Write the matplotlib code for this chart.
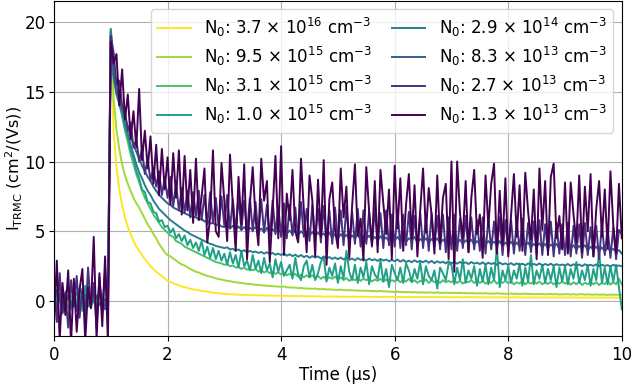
import numpy as np
import matplotlib
matplotlib.use("Agg")
import matplotlib.pyplot as plt

# time grid (μs), one sample every 0.05 μs from 0 to 10
time_us = np.round(np.arange(201) * 0.05, 2)

labels = [
    "N$_0$: 3.7 × 10$^{16}$ cm$^{-3}$",
    "N$_0$: 9.5 × 10$^{15}$ cm$^{-3}$",
    "N$_0$: 3.1 × 10$^{15}$ cm$^{-3}$",
    "N$_0$: 1.0 × 10$^{15}$ cm$^{-3}$",
    "N$_0$: 2.9 × 10$^{14}$ cm$^{-3}$",
    "N$_0$: 8.3 × 10$^{13}$ cm$^{-3}$",
    "N$_0$: 2.7 × 10$^{13}$ cm$^{-3}$",
    "N$_0$: 1.3 × 10$^{13}$ cm$^{-3}$",
]

n_37e16 = [
    0.1, -0.2, 0.3, 0.0, -0.1, 0.2, -0.3, 0.1, 0.2, -0.1,
    0.0, 0.3, -0.2, 0.1, -0.1, 0.2, 0.0, -0.2, 0.1, 0.0,
    19.3, 12.2, 9.6, 8.0, 6.9, 6.0, 5.3, 4.8, 4.3, 3.9,
    3.6, 3.3, 3.0, 2.75, 2.5, 2.3, 2.1, 1.95, 1.8, 1.62,
    1.45, 1.36, 1.28, 1.2, 1.12, 1.05, 1.0, 0.94, 0.89, 0.84,
    0.8, 0.77, 0.73, 0.7, 0.67, 0.63, 0.61, 0.58, 0.56, 0.54,
    0.52, 0.51, 0.49, 0.48, 0.47, 0.46, 0.45, 0.45, 0.44, 0.43,
    0.42, 0.42, 0.41, 0.41, 0.40, 0.40, 0.39, 0.39, 0.39, 0.38,
    0.38, 0.37, 0.38, 0.36, 0.37, 0.36, 0.35, 0.36, 0.35, 0.34,
    0.35, 0.34, 0.33, 0.34, 0.33, 0.32, 0.33, 0.32, 0.33, 0.32,
    0.32, 0.31, 0.32, 0.31, 0.30, 0.31, 0.32, 0.30, 0.31, 0.30,
    0.31, 0.30, 0.29, 0.31, 0.30, 0.29, 0.30, 0.31, 0.29, 0.30,
    0.30, 0.29, 0.30, 0.28, 0.29, 0.30, 0.28, 0.29, 0.30, 0.28,
    0.29, 0.28, 0.29, 0.30, 0.28, 0.29, 0.27, 0.28, 0.29, 0.28,
    0.28, 0.27, 0.29, 0.28, 0.27, 0.28, 0.29, 0.27, 0.28, 0.27,
    0.28, 0.27, 0.26, 0.28, 0.27, 0.26, 0.27, 0.28, 0.26, 0.27,
    0.27, 0.26, 0.27, 0.28, 0.26, 0.27, 0.25, 0.26, 0.27, 0.26,
    0.26, 0.27, 0.25, 0.26, 0.27, 0.25, 0.26, 0.25, 0.27, 0.26,
    0.26, 0.25, 0.26, 0.27, 0.25, 0.26, 0.24, 0.25, 0.26, 0.25,
    0.25, 0.26, 0.24, 0.25, 0.26, 0.24, 0.25, 0.26, 0.24, 0.25,
    0.25,
]

n_95e15 = [
    -0.2, 0.3, 0.1, -0.3, 0.2, 0.0, 0.4, -0.2, 0.1, 0.3,
    -0.1, 0.2, -0.3, 0.4, 0.0, -0.2, 0.3, 0.1, -0.1, 0.2,
    19.4, 14.5, 12.3, 10.9, 9.8, 9.0, 8.4, 7.9, 7.4, 7.0,
    6.7, 6.3, 5.9, 5.5, 5.2, 4.8, 4.5, 4.1, 3.8, 3.5,
    3.3, 3.2, 3.05, 2.9, 2.75, 2.62, 2.55, 2.42, 2.3, 2.2,
    2.1, 2.05, 1.95, 1.88, 1.8, 1.75, 1.7, 1.62, 1.58, 1.54,
    1.5, 1.45, 1.43, 1.38, 1.35, 1.32, 1.3, 1.26, 1.24, 1.22,
    1.2, 1.17, 1.16, 1.13, 1.12, 1.1, 1.08, 1.07, 1.05, 1.04,
    1.02, 1.04, 0.99, 0.98, 0.96, 0.97, 0.93, 0.94, 0.91, 0.9,
    0.9, 0.88, 0.9, 0.86, 0.85, 0.87, 0.83, 0.84, 0.82, 0.81,
    0.8, 0.82, 0.78, 0.79, 0.77, 0.78, 0.75, 0.76, 0.74, 0.75,
    0.73, 0.74, 0.71, 0.72, 0.7, 0.73, 0.69, 0.7, 0.68, 0.67,
    0.65, 0.68, 0.64, 0.66, 0.63, 0.65, 0.62, 0.64, 0.61, 0.63,
    0.62, 0.6, 0.63, 0.61, 0.59, 0.62, 0.6, 0.58, 0.61, 0.59,
    0.58, 0.6, 0.57, 0.59, 0.56, 0.58, 0.55, 0.57, 0.56, 0.54,
    0.56, 0.54, 0.57, 0.53, 0.55, 0.52, 0.56, 0.53, 0.54, 0.52,
    0.52, 0.54, 0.51, 0.53, 0.5, 0.52, 0.54, 0.5, 0.52, 0.49,
    0.51, 0.49, 0.52, 0.48, 0.5, 0.51, 0.48, 0.5, 0.47, 0.49,
    0.48, 0.5, 0.47, 0.49, 0.46, 0.48, 0.5, 0.46, 0.48, 0.47,
    0.46, 0.48, 0.45, 0.47, 0.46, 0.44, 0.47, 0.45, 0.46, 0.44,
    0.45,
]

n_31e15 = [
    0.4, -0.3, 0.6, -0.1, 0.3, -0.5, 0.2, 0.5, -0.4, 0.1,
    0.3, -0.2, 0.5, -0.4, 0.2, 0.0, 0.6, -0.3, 0.2, -0.1,
    19.5, 17.0, 15.3, 14.2, 13.2, 12.2, 11.4, 10.5, 9.8, 9.1,
    8.5, 7.9, 7.4, 7.0, 6.6, 6.2, 5.9, 5.6, 5.3, 5.1,
    4.9, 4.7, 4.6, 4.3, 4.2, 4.1, 3.9, 3.8, 3.7, 3.6,
    3.5, 3.4, 3.3, 3.2, 3.1, 3.0, 2.9, 2.8, 2.75, 2.7,
    2.6, 2.65, 2.5, 2.55, 2.4, 2.45, 2.3, 2.4, 2.25, 2.3,
    2.2, 2.3, 2.1, 2.25, 2.05, 2.15, 2.0, 2.1, 1.95, 2.05,
    1.9, 2.05, 1.85, 1.95, 1.8, 1.95, 1.75, 1.9, 1.7, 1.85,
    1.7, 1.85, 1.65, 1.8, 1.6, 1.75, 1.55, 1.7, 1.6, 1.75,
    1.55, 1.7, 1.5, 1.65, 1.45, 1.6, 1.5, 1.65, 1.45, 1.6,
    1.5, 1.6, 1.4, 1.55, 1.45, 1.6, 1.4, 1.55, 1.35, 1.5,
    1.4, 1.55, 1.35, 1.5, 1.4, 1.6, 1.35, 1.5, 1.3, 1.45,
    1.4, 1.55, 1.3, 1.5, 1.35, 1.45, 1.3, 1.5, 1.35, 1.45,
    1.35, 1.5, 1.3, 1.45, 1.25, 1.4, 1.35, 1.5, 1.3, 1.45,
    1.3, 1.45, 1.25, 1.4, 1.3, 1.5, 1.25, 1.4, 1.3, 1.45,
    1.28, 1.4, 1.2, 1.35, 1.25, 1.45, 1.2, 1.35, 1.25, 1.4,
    1.25, 1.4, 1.2, 1.35, 1.22, 1.38, 1.2, 1.35, 1.25, 1.4,
    1.25, 1.38, 1.18, 1.35, 1.2, 1.4, 1.15, 1.32, 1.2, 1.38,
    1.2, 1.35, 1.15, 1.3, 1.22, 1.45, 1.18, 1.35, 1.2, 1.6,
    1.2,
]

n_10e15 = [
    0.8, -0.5, 1.6, -0.8, 0.5, 1.0, -0.6, 0.9, -0.3, 0.6,
    -0.7, 1.1, 0.2, -0.5, 0.8, -0.9, 1.0, 0.3, -0.4, 0.5,
    19.5, 16.8, 15.2, 14.3, 13.5, 12.4, 11.8, 10.8, 10.2, 9.3,
    8.8, 8.0, 7.8, 7.1, 7.0, 6.4, 6.3, 5.7, 5.8, 5.3,
    5.4, 4.9, 5.2, 4.5, 4.8, 4.3, 4.7, 4.0, 4.4, 3.8,
    4.2, 3.6, 4.3, 3.3, 3.9, 3.1, 3.8, 3.0, 3.6, 2.9,
    3.4, 2.6, 3.5, 2.7, 3.3, 2.4, 3.6, 2.5, 2.9, 2.2,
    3.3, 2.3, 2.9, 2.0, 3.1, 2.2, 2.7, 1.7, 3.0, 2.1,
    2.8, 1.8, 2.2, 2.6, 1.6, 3.1, 1.9, 1.5, 2.5, 2.9,
    1.7, 2.6, 1.5, 2.0, 2.8, 3.2, 1.4, 2.4, 1.8, 2.7,
    1.3, 2.5, 1.6, 3.6, 2.1, 1.5, 2.6, 1.3, 2.4, 1.7,
    2.8, 1.2, 2.5, 1.9, 1.6, 2.9, 1.4, 2.3, 1.0, 2.6,
    2.0, 1.5, 2.4, 1.3, 2.7, 2.2, 1.4, 2.3, 1.6, 2.8,
    1.2, 2.5, 1.8, 1.5, 2.2, 0.9, 2.4, 2.0, 1.5, 2.7,
    2.6, 1.2, 2.4, 1.5, 3.0, 1.3, 2.2, 1.6, 2.5, 1.1,
    2.3, 1.4, 2.6, 1.2, 2.4, 1.5, 3.9, 1.0, 2.2, 1.5,
    2.5, 1.3, 2.2, 1.6, 2.7, 1.1, 2.4, 1.4, 3.3, 1.2,
    2.2, 1.6, 2.6, 1.3, 2.3, 1.5, 2.5, 1.0, 2.4, 1.4,
    2.5, 1.2, 2.3, 1.6, 2.8, 1.3, 2.2, 1.5, 2.6, 1.1,
    2.3, 1.5, 3.5, 1.3, 2.4, 1.2, 2.5, 1.4, 2.6, 1.0,
    -0.6,
]

n_29e14 = [
    0.3, -0.4, 0.5, 0.0, -0.3, 0.4, -0.2, 0.2, 0.6, -0.3,
    0.1, 0.5, -0.4, 0.3, -0.1, 0.4, -0.3, 0.2, 0.0, 0.3,
    19.3, 16.0, 14.8, 14.1, 13.5, 12.7, 12.0, 11.2, 10.5, 9.8,
    9.2, 8.8, 8.3, 7.9, 7.6, 7.2, 6.9, 6.6, 6.4, 6.2,
    6.0, 5.8, 5.65, 5.5, 5.35, 5.2, 5.05, 4.95, 4.8, 4.7,
    4.6, 4.5, 4.4, 4.3, 4.2, 4.1, 4.05, 3.95, 3.9, 3.85,
    3.8, 3.85, 3.7, 3.75, 3.62, 3.7, 3.55, 3.65, 3.5, 3.6,
    3.5, 3.55, 3.45, 3.52, 3.4, 3.5, 3.35, 3.45, 3.32, 3.4,
    3.3, 3.42, 3.25, 3.35, 3.22, 3.32, 3.18, 3.3, 3.15, 3.25,
    3.1, 3.22, 3.12, 3.2, 3.05, 3.18, 3.08, 3.15, 3.02, 3.12,
    3.0, 3.12, 2.98, 3.1, 2.95, 3.05, 2.92, 3.08, 2.95, 3.02,
    2.9, 3.05, 2.92, 3.0, 2.88, 3.02, 2.9, 2.98, 2.85, 2.95,
    2.85, 2.98, 2.82, 2.95, 2.8, 2.9, 2.78, 2.92, 2.8, 2.88,
    2.78, 2.9, 2.75, 2.88, 2.72, 2.85, 2.75, 2.82, 2.7, 2.85,
    2.7, 2.82, 2.68, 2.8, 2.7, 2.78, 2.65, 2.8, 2.68, 2.75,
    2.65, 2.78, 2.62, 2.75, 2.66, 2.72, 2.6, 2.76, 2.63, 2.7,
    2.6, 2.72, 2.58, 2.7, 2.6, 2.68, 2.56, 2.7, 2.6, 2.66,
    2.58, 2.7, 2.55, 2.66, 2.57, 2.68, 2.54, 2.65, 2.56, 2.62,
    2.55, 2.66, 2.52, 2.64, 2.55, 2.62, 2.5, 2.64, 2.53, 2.6,
    2.52, 2.63, 2.5, 2.6, 2.52, 2.58, 2.48, 2.6, 2.5, 2.55,
    2.5,
]

n_83e13 = [
    -0.6, 0.8, 0.2, -0.9, 0.5, 1.1, -0.4, 0.3, -0.7, 0.9,
    0.4, -0.5, 1.0, -0.2, 0.6, -0.8, 0.7, 0.1, -0.6, 0.5,
    19.0, 16.2, 15.0, 14.5, 13.8, 13.2, 12.5, 11.8, 11.2, 10.7,
    10.2, 9.7, 9.3, 8.9, 8.6, 8.2, 7.9, 7.6, 7.4, 7.2,
    7.0, 6.9, 6.7, 6.6, 6.5, 6.4, 6.3, 6.2, 6.1, 6.05,
    6.0, 5.85, 5.9, 5.7, 5.75, 5.55, 5.6, 5.45, 5.5, 5.35,
    5.3, 5.45, 5.2, 5.4, 5.15, 5.35, 5.1, 5.3, 5.05, 5.25,
    5.1, 5.3, 5.0, 5.2, 4.95, 5.25, 4.9, 5.15, 4.95, 5.1,
    4.9, 5.15, 4.85, 5.05, 4.8, 5.1, 4.75, 5.0, 4.8, 4.95,
    4.7, 4.95, 4.65, 4.9, 4.7, 4.85, 4.6, 4.9, 4.55, 4.8,
    4.5, 4.8, 4.55, 4.75, 4.45, 4.7, 4.5, 4.75, 4.4, 4.65,
    4.45, 4.7, 4.4, 4.6, 4.35, 4.65, 4.4, 4.55, 4.3, 4.6,
    4.35, 4.6, 4.3, 4.55, 4.25, 4.5, 4.35, 4.6, 4.2, 4.45,
    4.3, 4.5, 4.2, 4.45, 4.25, 4.5, 4.15, 4.4, 4.2, 4.45,
    4.2, 4.45, 4.15, 4.4, 4.1, 4.35, 4.2, 4.4, 4.05, 4.3,
    4.1, 4.35, 4.05, 4.3, 4.1, 4.25, 4.0, 4.3, 3.95, 4.2,
    4.0, 4.25, 3.95, 4.2, 3.9, 4.15, 4.0, 4.2, 3.85, 4.1,
    3.9, 4.15, 3.85, 4.1, 3.8, 4.05, 3.9, 4.1, 3.75, 4.0,
    3.8, 4.05, 3.75, 4.0, 3.7, 3.95, 3.8, 4.0, 3.65, 3.9,
    3.7, 3.9, 3.6, 3.85, 3.55, 3.8, 3.6, 3.75, 3.5, 3.65,
    3.4,
]

n_27e13 = [
    1.2, -1.5, 2.0, -0.8, 0.6, -1.9, 1.5, -0.4, 1.8, -1.2,
    0.9, -1.6, 2.4, -0.5, 1.3, -2.0, 1.7, -0.9, 2.2, -1.4,
    19.0, 17.8, 15.5, 15.8, 14.0, 13.6, 12.2, 12.8, 11.0, 11.6,
    10.0, 10.9, 9.1, 10.2, 8.6, 9.6, 8.2, 9.3, 7.6, 8.8,
    7.4, 8.9, 6.8, 8.4, 6.5, 8.1, 6.3, 7.9, 6.0, 7.8,
    6.1, 7.9, 5.8, 7.6, 5.5, 7.8, 5.6, 7.4, 5.3, 7.5,
    5.4, 7.6, 5.2, 7.3, 5.0, 7.5, 5.1, 7.2, 4.9, 7.4,
    5.0, 7.1, 4.7, 7.3, 4.9, 6.9, 4.6, 7.2, 4.8, 6.8,
    4.6, 7.0, 4.5, 6.9, 4.7, 6.7, 4.4, 7.1, 4.6, 6.6,
    4.3, 6.9, 4.5, 6.6, 4.2, 6.8, 4.4, 6.5, 4.1, 6.7,
    4.3, 6.5, 4.0, 6.8, 4.2, 6.4, 4.1, 6.6, 3.9, 6.5,
    4.1, 6.4, 3.9, 6.7, 4.0, 6.3, 3.8, 6.5, 4.0, 6.2,
    3.9, 6.5, 3.8, 6.2, 4.0, 6.4, 3.7, 6.1, 3.9, 6.3,
    3.8, 6.0, 3.6, 6.3, 3.9, 6.1, 3.7, 6.2, 3.5, 6.0,
    3.7, 6.2, 3.6, 5.9, 3.8, 6.1, 3.5, 6.0, 3.7, 5.8,
    3.6, 6.0, 3.4, 5.9, 3.7, 5.7, 3.5, 6.0, 3.3, 5.8,
    3.5, 5.8, 3.4, 5.7, 3.6, 5.9, 3.3, 5.6, 3.5, 5.7,
    3.4, 5.8, 3.3, 5.5, 3.5, 5.7, 3.2, 5.6, 3.4, 5.5,
    3.3, 5.6, 3.2, 5.4, 3.4, 5.5, 3.1, 5.6, 3.3, 5.3,
    3.2, 5.4, 3.0, 5.5, 3.3, 5.2, 3.1, 5.3, 3.0, 5.1,
    4.8,
]

n_13e13 = [
    -1.5, 2.9, -2.8, 1.3, -1.0, 2.2, -3.0, 1.6, -2.2, 0.8,
    2.3, -2.9, 1.0, -0.5, 4.6, -2.7, 2.0, -1.8, 3.2, -3.0,
    18.6, 17.0, 17.7, 14.0, 16.6, 13.0, 14.8, 11.6, 13.6, 11.0,
    15.2, 10.1, 12.2, 9.5, 11.8, 8.4, 11.2, 7.6, 10.9, 8.0,
    10.3, 6.9, 10.6, 7.4, 10.8, 6.2, 10.4, 6.5, 9.4, 5.6,
    10.2, 5.8, 7.5, 9.5, 4.2, 6.0, 10.8, 5.0, 4.6, 9.9,
    7.2, 4.3, 10.5, 6.8, 3.6, 8.9, 5.5, 9.8, 3.0, 7.0,
    9.6, 5.9, 4.0, 10.2, 7.2, 8.6, 2.8, 6.4, 10.4, 4.5,
    11.1, 3.3, 7.7, 5.8, 9.4, 5.0, 4.2, 10.2, 6.5, 3.5,
    9.0, 7.2, 3.2, 8.7, 4.6, 10.1, 2.6, 7.3, 8.5, 5.1,
    3.8, 9.5, 6.0, 8.2, 3.1, 6.8, 9.8, 4.7, 5.9, 2.9,
    9.6, 6.4, 4.0, 8.6, 3.5, 9.4, 7.0, 4.8, 8.0, 3.0,
    9.7, 5.2, 8.8, 3.6, 6.9, 9.1, 4.5, 8.3, 3.2, 6.5,
    9.5, 4.9, 8.1, 6.2, 3.4, 9.0, 4.1, 7.4, 8.4, 3.0,
    10.0, 2.1, 10.0, 6.3, 4.5, 8.6, 3.5, 7.4, 9.4, 4.8,
    6.2, 3.1, 9.0, 5.3, 8.4, 9.85, 3.4, 7.9, 4.0, 8.8,
    3.2, 6.1, 9.1, 4.6, 8.3, 3.6, 9.2, 6.4, 4.4, 8.0,
    3.0, 9.5, 5.1, 8.6, 3.3, 8.9, 9.85, 4.5, 6.1, 3.7,
    8.5, 3.4, 8.5, 6.2, 4.2, 9.0, 3.5, 8.2, 5.0, 9.1,
    3.2, 6.6, 8.6, 4.6, 8.0, 3.8, 9.3, 5.4, 3.4, 8.4,
    4.5,
]

series = [n_37e16, n_95e15, n_31e15, n_10e15, n_29e14, n_83e13, n_27e13, n_13e13]
colors = plt.cm.viridis(np.linspace(1, 0, len(series)))

plt.rcParams['font.family'] = ['DejaVu Sans']
plt.rcParams['font.size'] = 12

fig = plt.figure(figsize=(6.33, 3.9), dpi=100)
ax = fig.add_axes([0.0853, 0.1385, 0.897, 0.859])

for vals, lab, col in zip(series, labels, colors):
    ax.plot(time_us, vals, color=col, lw=1.4, label=lab)

ax.set_xlim(0, 10)
ax.set_ylim(-2.5, 21.5)
ax.set_xticks([0, 2, 4, 6, 8, 10])
ax.set_yticks([0, 5, 10, 15, 20])
ax.tick_params(axis='y', pad=2.5)
ax.grid(True, color='#b0b0b0', lw=0.8)
ax.set_axisbelow(True)
ax.set_xlabel("Time (μs)", labelpad=2)
ax.set_ylabel(r"I$_\mathrm{TRMC}$ (cm$^2$/(Vs))", labelpad=0, fontsize=11.5)
ax.legend(loc='upper right', ncol=2, fontsize=12, framealpha=0.8,
          handlelength=2.0, columnspacing=1.2, labelspacing=0.35,
          borderaxespad=0.5)

fig.savefig("out.png", dpi=100)
